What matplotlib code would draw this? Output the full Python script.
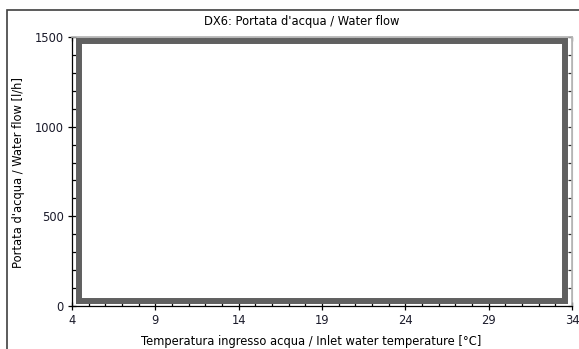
import matplotlib
matplotlib.use("Agg")
import matplotlib.pyplot as plt
from matplotlib.patches import Rectangle
from matplotlib.ticker import MultipleLocator

# Data
title = "DX6: Portata d'acqua / Water flow"
xlabel = "Temperatura ingresso acqua / Inlet water temperature [°C]"
ylabel = "Portata d'acqua / Water flow [l/h]"
x_ticks = [4, 9, 14, 19, 24, 29, 34]
y_ticks = [0, 500, 1000, 1500]
envelope_x = [4.42, 33.55, 33.55, 4.42, 4.42]
envelope_y = [30, 30, 1480, 1480, 30]

W, H = 579, 349
fig = plt.figure(figsize=(W / 100, H / 100), dpi=100)
fig.patch.set_facecolor("white")

# outer frame
fig.add_artist(Rectangle((7 / W, 0 - 0.05), 1.2, (H - 10) / H + 0.05,
                         transform=fig.transFigure, fill=False,
                         edgecolor="#404040", linewidth=1.2))

ax = fig.add_axes([72 / W, (H - 306) / H, 500 / W, 269 / H])
ax.plot(envelope_x, envelope_y, color="#606060", linewidth=4.3,
        solid_joinstyle="miter", solid_capstyle="projecting")
ax.set_xlim(4, 34)
ax.set_ylim(0, 1500)
ax.set_xticks(x_ticks)
ax.set_yticks(y_ticks)
ax.xaxis.set_minor_locator(MultipleLocator(1))
ax.yaxis.set_minor_locator(MultipleLocator(100))

fs = 8.3
for axis in (ax.xaxis, ax.yaxis):
    axis.set_tick_params(which="major", direction="inout", length=6, width=0.9,
                         color="black", labelsize=fs, labelcolor="#1a1a2a", pad=3)
    axis.set_tick_params(which="minor", direction="in", length=3, width=0.9,
                         color="black")
for s in ["bottom", "left"]:
    ax.spines[s].set_color("black")
    ax.spines[s].set_linewidth(0.9)
for s in ["top", "right"]:
    ax.spines[s].set_color("#b4b4b4")
    ax.spines[s].set_linewidth(1.2)

sx = ax.secondary_xaxis("top")
sx.set_xticks(x_ticks)
sx.xaxis.set_minor_locator(MultipleLocator(1))
sx.tick_params(which="both", direction="in", length=3, width=0.9,
               color="#303030", labeltop=False)
sx.spines["top"].set_color("#b4b4b4")
sy = ax.secondary_yaxis("right")
sy.set_yticks(y_ticks)
sy.yaxis.set_minor_locator(MultipleLocator(100))
sy.tick_params(which="both", direction="in", length=3, width=0.9,
               color="#303030", labelright=False)
sy.spines["right"].set_color("#b4b4b4")

fig.text(302 / W, 1 - 21 / H, title, ha="center", va="center", fontsize=fs, color="black")
fig.text(311 / W, 1 - 341 / H, xlabel, ha="center", va="center", fontsize=fs, color="black")
fig.text(19 / W, 1 - 172 / H, ylabel, ha="center", va="center", rotation=90,
         fontsize=fs, color="black")

fig.savefig("out.png", dpi=100)
